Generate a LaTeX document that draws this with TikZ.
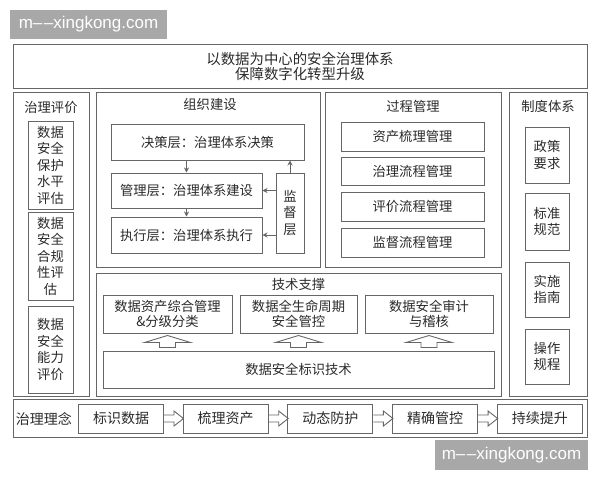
\documentclass[tikz,border=0pt]{standalone}
\usepackage{fontspec}
\setmainfont{Liberation Sans}
\newfontfamily\cjk{Noto Sans CJK SC}
\usetikzlibrary{arrows.meta,calc}
\definecolor{ln}{HTML}{666666}
\definecolor{tx}{HTML}{2A2A2A}
\definecolor{wm}{HTML}{A8A8A8}
\tikzset{
 bx/.style={draw=ln, line width=1pt, text=tx, inner sep=0pt, align=center, font=\cjk\fontsize{13.3}{16.5}\selectfont},
 two/.style={font=\cjk\fontsize{13.3}{15}\selectfont},
 ttl/.style={text=tx, inner sep=0pt, font=\cjk\fontsize{13.3}{16}\selectfont},
 arr/.style={draw=ln, line width=0.9pt, -{Stealth[length=5pt,width=5pt]}},
 blk/.style={draw=ln, line width=0.9pt},
 wmk/.style={fill=wm, text=white, inner sep=0pt, font=\fontsize{17}{20}\selectfont}
}
\begin{document}
\begin{tikzpicture}[x=1pt,y=-1pt]
\useasboundingbox (0,0) rectangle (600,480);
% title
\node[bx, minimum width=574, minimum height=44, font=\cjk\fontsize{14.4}{15}\selectfont] (title) at (300,66) {以数据为中心的安全治理体系\\保障数字化转型升级};
% left column
\node[bx, minimum width=76, minimum height=304] (eval) at (51,244) {};
\node[ttl] (evalt) at (51,107) {治理评价};
\node[bx, minimum width=45, minimum height=88] (e1) at (50.5,165) {数据\\安全\\保护\\水平\\评估};
\node[bx, minimum width=45, minimum height=88] (e2) at (50.5,256) {数据\\安全\\合规\\性评\\估};
\node[bx, minimum width=45, minimum height=87] (e3) at (50.5,349.5) {数据\\安全\\能力\\评价};
% organisation
\node[bx, minimum width=224, minimum height=175] (org) at (208,179.5) {};
\node[ttl] (orgt) at (210,104) {组织建设};
\node[bx, minimum width=193, minimum height=36] (o1) at (207.5,142) {决策层：治理体系决策};
\node[bx, minimum width=151, minimum height=35] (o2) at (186.5,190.5) {管理层：治理体系建设};
\node[bx, minimum width=151, minimum height=36] (o3) at (186.5,235) {执行层：治理体系执行};
\node[bx, minimum width=28, minimum height=80] (o4) at (290,213) {监\\督\\层};
\draw[arr] (o2.north |- o1.south) -- (o2.north);
\draw[arr] (o2.south) -- (o3.north);
\draw[arr] (o4.north) -- (o4.north |- o1.south);
\draw[arr] (o4.west |- o2.east) -- (o2.east);
\draw[arr] (o4.west |- o3.east) -- (o3.east);
% process
\node[bx, minimum width=176, minimum height=175] (proc) at (413,179.5) {};
\node[ttl] (proct) at (413,106) {过程管理};
\node[bx, minimum width=143, minimum height=29] (p1) at (412.5,136.5) {资产梳理管理};
\node[bx, minimum width=143, minimum height=28] (p2) at (412.5,171) {治理流程管理};
\node[bx, minimum width=143, minimum height=29] (p3) at (412.5,206.5) {评价流程管理};
\node[bx, minimum width=143, minimum height=29] (p4) at (412.5,242.5) {监督流程管理};
% system
\node[bx, minimum width=78, minimum height=304] (sys) at (548,244) {};
\node[ttl] (syst) at (548,106) {制度体系};
\node[bx, minimum width=44, minimum height=56] (s1) at (547,155) {政策\\要求};
\node[bx, minimum width=44, minimum height=57] (s2) at (547,221.5) {标准\\规范};
\node[bx, minimum width=44, minimum height=55] (s3) at (547,289.5) {实施\\指南};
\node[bx, minimum width=44, minimum height=55] (s4) at (547,356.5) {操作\\规程};
% technology
\node[bx, minimum width=405, minimum height=123] (tech) at (298.5,334.5) {};
\node[ttl] (techt) at (298.5,284) {技术支撑};
\node[bx, two, minimum width=129, minimum height=38] (t1) at (167.5,314) {数据资产综合管理\\\&分级分类};
\node[bx, two, minimum width=117, minimum height=38] (t2) at (298.5,314) {数据全生命周期\\安全管控};
\node[bx, two, minimum width=128, minimum height=38] (t3) at (429,314) {数据安全审计\\与稽核};
\node[bx, minimum width=391, minimum height=37] (t4) at (298.5,369.5) {数据安全标识技术};
\foreach \n in {t1,t2,t3} {
  \draw[blk] ($(\n.south)+(0,2)$) -- ++(23,7) -- ++(-15,0) -- ++(0,5) -- ++(-16,0) -- ++(0,-5) -- ++(-15,0) -- cycle;
}
% bottom
\node[bx, minimum width=574, minimum height=38] (idea) at (300,418) {};
\node[ttl, font=\cjk\fontsize{14}{16}\selectfont] (ideat) at (44,419) {治理理念};
\node[bx, font=\cjk\fontsize{14}{16}\selectfont, minimum width=85, minimum height=29] (b1) at (121,418.5) {标识数据};
\node[bx, font=\cjk\fontsize{14}{16}\selectfont, minimum width=85, minimum height=29] (b2) at (225.7,418.5) {梳理资产};
\node[bx, font=\cjk\fontsize{14}{16}\selectfont, minimum width=85, minimum height=29] (b3) at (330.4,418.5) {动态防护};
\node[bx, font=\cjk\fontsize{14}{16}\selectfont, minimum width=85, minimum height=29] (b4) at (435.1,418.5) {精确管控};
\node[bx, font=\cjk\fontsize{14}{16}\selectfont, minimum width=85, minimum height=29] (b5) at (539.8,418.5) {持续提升};
\foreach \n in {b1,b2,b3,b4} {
  \draw[blk] ($(\n.east)+(0,-3.5)$) -- ++(10,0) -- ++(0,-4) -- ++(9.5,7.5) -- ++(-9.5,7.5) -- ++(0,-4) -- ++(-10,0);
}
% watermarks
\node[wmk, minimum width=157, minimum height=29] (wm1) at (88.5,24.5) {m–\kern1.5pt–xingkong.com};
\node[wmk, minimum width=153, minimum height=30] (wm2) at (511.5,455) {m–\kern1.5pt–xingkong.com};
\end{tikzpicture}
\end{document}
